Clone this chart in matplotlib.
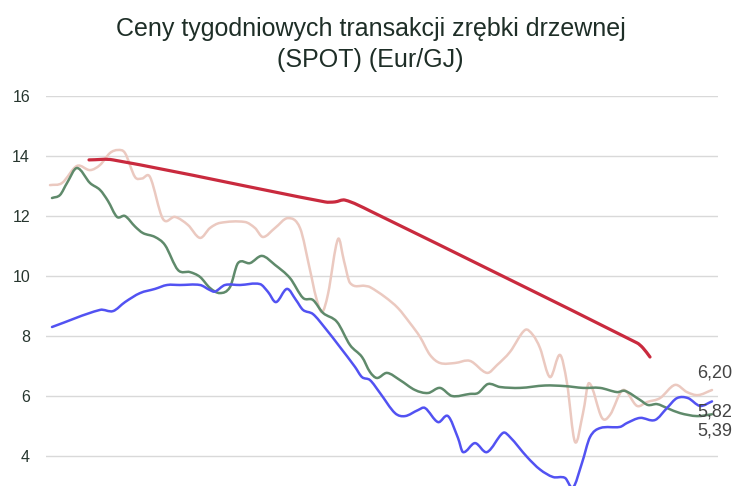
import matplotlib.pyplot as plt
from matplotlib.path import Path
from matplotlib.patches import PathPatch

plt.rcParams['font.family'] = ['Liberation Sans', 'DejaVu Sans']

# day index (approx. 1 day per pixel of the original chart)
blue_days = [0, 48, 61, 73, 88, 103, 115, 128, 148, 158, 163, 173, 188, 208, 216, 224, 235, 244,
             251, 261, 273, 288, 303, 310, 318, 328, 343, 353, 366, 373, 386, 396, 406, 411, 423,
             435, 451, 458, 475, 488, 501, 513, 521, 530, 538, 548, 568, 575, 588, 603, 615, 625,
             636, 648, 660]
blue_vals = [8.3, 8.87, 8.83, 9.13, 9.43, 9.57, 9.7, 9.7, 9.7, 9.53, 9.48, 9.7, 9.7, 9.73, 9.47,
             9.13, 9.57, 9.2, 8.87, 8.73, 8.27, 7.63, 6.97, 6.63, 6.53, 6.1, 5.43, 5.33, 5.53, 5.6,
             5.13, 5.33, 4.6, 4.13, 4.43, 4.13, 4.77, 4.63, 3.97, 3.55, 3.3, 3.27, 2.95, 3.77, 4.63,
             4.93, 4.97, 5.1, 5.27, 5.2, 5.6, 5.93, 5.93, 5.67, 5.82]

green_days = [0, 8, 15, 25, 38, 48, 56, 65, 73, 83, 91, 103, 113, 126, 138, 148, 158, 168, 178,
              186, 198, 210, 223, 238, 251, 261, 271, 285, 298, 310, 318, 325, 335, 348, 363, 376,
              388, 400, 418, 426, 436, 448, 468, 493, 513, 531, 548, 565, 573, 588, 596, 605, 615,
              628, 645, 660]
green_vals = [12.6, 12.7, 13.1, 13.6, 13.1, 12.87, 12.5, 11.97, 12.0, 11.65, 11.43, 11.3, 11.03,
              10.2, 10.13, 9.97, 9.6, 9.43, 9.63, 10.43, 10.43, 10.67, 10.37, 9.93, 9.27, 9.2, 8.77,
              8.47, 7.7, 7.3, 6.8, 6.6, 6.77, 6.53, 6.2, 6.1, 6.27, 6.0, 6.07, 6.1, 6.4, 6.3, 6.27,
              6.35, 6.33, 6.27, 6.27, 6.13, 6.17, 5.87, 5.7, 5.73, 5.6, 5.43, 5.33, 5.39]

pink_days = [-2, 10, 25, 38, 48, 58, 66, 73, 83, 90, 98, 111, 123, 136, 148, 158, 168, 193, 203,
             211, 223, 236, 248, 258, 264, 270, 276, 286, 292, 298, 313, 318, 333, 346, 358, 368,
             378, 388, 403, 418, 435, 445, 458, 473, 481, 488, 498, 508, 515, 523, 531, 537, 550,
             558, 571, 585, 595, 608, 623, 635, 646, 660]
pink_vals = [13.03, 13.1, 13.67, 13.53, 13.7, 14.1, 14.2, 14.1, 13.3, 13.25, 13.3, 11.9, 11.97,
             11.7, 11.27, 11.6, 11.77, 11.8, 11.6, 11.3, 11.6, 11.93, 11.6, 10.2, 9.3, 8.8, 9.4,
             11.23, 10.5, 9.77, 9.67, 9.63, 9.3, 8.93, 8.43, 7.97, 7.37, 7.1, 7.1, 7.17, 6.77, 7.03,
             7.47, 8.2, 8.03, 7.6, 6.63, 7.37, 6.43, 4.47, 5.43, 6.43, 5.27, 5.37, 6.2, 5.67, 5.8,
             5.93, 6.37, 6.13, 6.03, 6.2]

red_days = [37, 61, 273, 283, 293, 318, 585, 591, 598]
red_vals = [13.87, 13.87, 12.47, 12.47, 12.53, 12.17, 7.77, 7.6, 7.3]

end_labels = ['6,20', '5,82', '5,39']
yticks = [4, 6, 8, 10, 12, 14, 16]


def smooth_line(ax, xs, ys, color, lw):
    # hermite-style bezier through the points, tangents from neighbours
    n = len(xs)
    slopes = []
    for i in range(n):
        a = max(i - 1, 0)
        b = min(i + 1, n - 1)
        slopes.append((ys[b] - ys[a]) / (xs[b] - xs[a]))
    verts = [(xs[0], ys[0])]
    codes = [Path.MOVETO]
    for i in range(n - 1):
        h = (xs[i + 1] - xs[i]) / 3
        verts += [(xs[i] + h, ys[i] + slopes[i] * h),
                  (xs[i + 1] - h, ys[i + 1] - slopes[i + 1] * h),
                  (xs[i + 1], ys[i + 1])]
        codes += [Path.CURVE4] * 3
    ax.add_patch(PathPatch(Path(verts, codes), fill=False, edgecolor=color, lw=lw,
                           capstyle='round', joinstyle='round'))


fig = plt.figure(figsize=(7.41, 4.86), dpi=100)
ax = fig.add_axes([46 / 741, 1 - 516 / 486, 672 / 741, 420 / 486])

smooth_line(ax, pink_days, pink_vals, '#ebc9c0', 1.8)
smooth_line(ax, green_days, green_vals, '#5f8a6b', 1.8)
smooth_line(ax, blue_days, blue_vals, '#5252f2', 1.8)
smooth_line(ax, red_days, red_vals, '#c92a3e', 2.3)

ax.set_xlim(-6, 666)
ax.set_ylim(2, 16)
ax.set_yticks(yticks)
ax.set_yticklabels([str(t) for t in yticks])
ax.set_xticks([])
ax.tick_params(axis='y', length=0, pad=11.5, labelsize=11.5, labelcolor='#27362f')
ax.grid(axis='y', color='#d9d9d9', lw=1)
ax.set_axisbelow(True)
for s in ax.spines.values():
    s.set_visible(False)

# labels at line ends
ax.annotate(end_labels[0], (pink_days[-1], pink_vals[-1]), xytext=(-15, 17),
            textcoords='offset pixels', ha='left', va='center', fontsize=13, color='#444444')
ax.annotate(end_labels[1], (blue_days[-1], blue_vals[-1]), xytext=(-15, -11),
            textcoords='offset pixels', ha='left', va='center', fontsize=13, color='#444444')
ax.annotate(end_labels[2], (green_days[-1], green_vals[-1]), xytext=(-15, -17),
            textcoords='offset pixels', ha='left', va='center', fontsize=13, color='#444444')

fig.text(0.5, 1 - 36 / 486, 'Ceny tygodniowych transakcji zrębki drzewnej', ha='center',
         va='baseline', fontsize=18, color='#1e2e27')
fig.text(0.5, 1 - 67 / 486, '(SPOT) (Eur/GJ)', ha='center', va='baseline', fontsize=18,
         color='#1e2e27')

fig.savefig('out.png', dpi=100)
